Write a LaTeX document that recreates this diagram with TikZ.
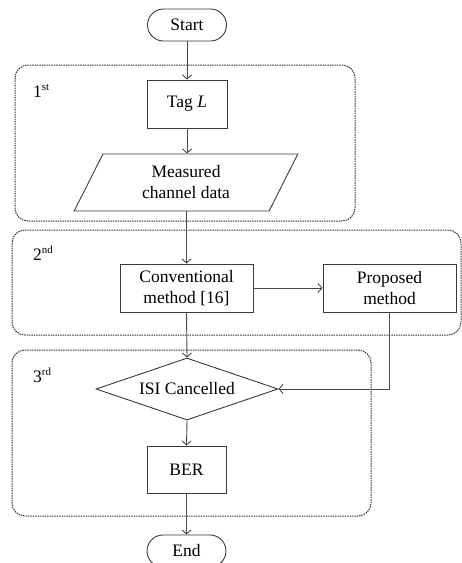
\documentclass[tikz,border=0pt]{standalone}
\usepackage{fontspec}
\setmainfont{Liberation Serif}
\usetikzlibrary{arrows.meta,shapes.geometric}
\definecolor{ln}{HTML}{4A4A4A}
\definecolor{gr}{HTML}{3A3A3A}
\begin{document}
\begin{tikzpicture}[x=1pt,y=-1pt,
  font=\fontsize{17.5}{21}\selectfont,
  every node/.style={text=black},
  proc/.style={draw=gr,line width=0.9pt,inner sep=0pt,align=center},
  term/.style={proc,rounded corners=16pt,minimum width=79pt,minimum height=32pt},
  stage/.style={draw=gr,line width=1pt,dash pattern=on 1.5pt off 0.9pt,rounded corners=13pt},
  conn/.style={draw=ln,line width=0.9pt,-{Straight Barb[length=4pt,width=9pt]}},
  lab/.style={anchor=base west,inner sep=0pt}]
\clip (0,0) rectangle (462,563);
\useasboundingbox (0,0) rectangle (462,563);
% stage frames
\draw[stage] (15,65) rectangle (355,221);
\draw[stage] (12,230) rectangle (461,335);
\draw[stage] (12,350) rectangle (371,516);
\node[lab] (l1) at (33,97) {1\textsuperscript{\fontsize{11}{12}\selectfont st}};
\node[lab] (l2) at (33,260) {2\textsuperscript{\fontsize{11}{12}\selectfont nd}};
\node[lab] (l3) at (33,382) {3\textsuperscript{\fontsize{11}{12}\selectfont rd}};
% nodes
\node[term] (start) at (187,25) {Start};
\node[proc,minimum width=80pt,minimum height=48pt] (tag) at (187,104) {Tag \textit{L}};
\node[proc,trapezium,trapezium left angle=65.5,trapezium right angle=114.5,
  trapezium stretches=true,minimum width=224pt,minimum height=57pt] (meas) at (186,182.5)
  {Measured\\channel data};
\node[proc,minimum width=133pt,minimum height=48pt] (conv) at (186.5,288) {Conventional\\method [16]};
\node[proc,minimum width=133pt,minimum height=48pt] (prop) at (389.5,288) {Proposed\\method};
\node[proc,diamond,aspect=2.935,minimum width=182pt,minimum height=62pt] (isi) at (187,389) {ISI Cancelled};
\node[proc,minimum width=79pt,minimum height=47pt] (ber) at (186.5,469.5) {BER};
\node[term] (end) at (186.5,551) {End};
% connectors
\draw[conn] (start.south) -- (tag.north);
\draw[conn] (tag.south) -- (meas.north -| tag.south);
\draw[conn] (meas.south -| conv.north) -- (conv.north);
\draw[conn] (conv.east) -- (prop.west);
\draw[conn] (conv.south) -- (isi.north);
\draw[conn] (prop.south) |- (isi.east);
\draw[conn] (isi.south) -- (ber.north);
\draw[conn] (ber.south) -- (end.north);
\end{tikzpicture}
\end{document}
